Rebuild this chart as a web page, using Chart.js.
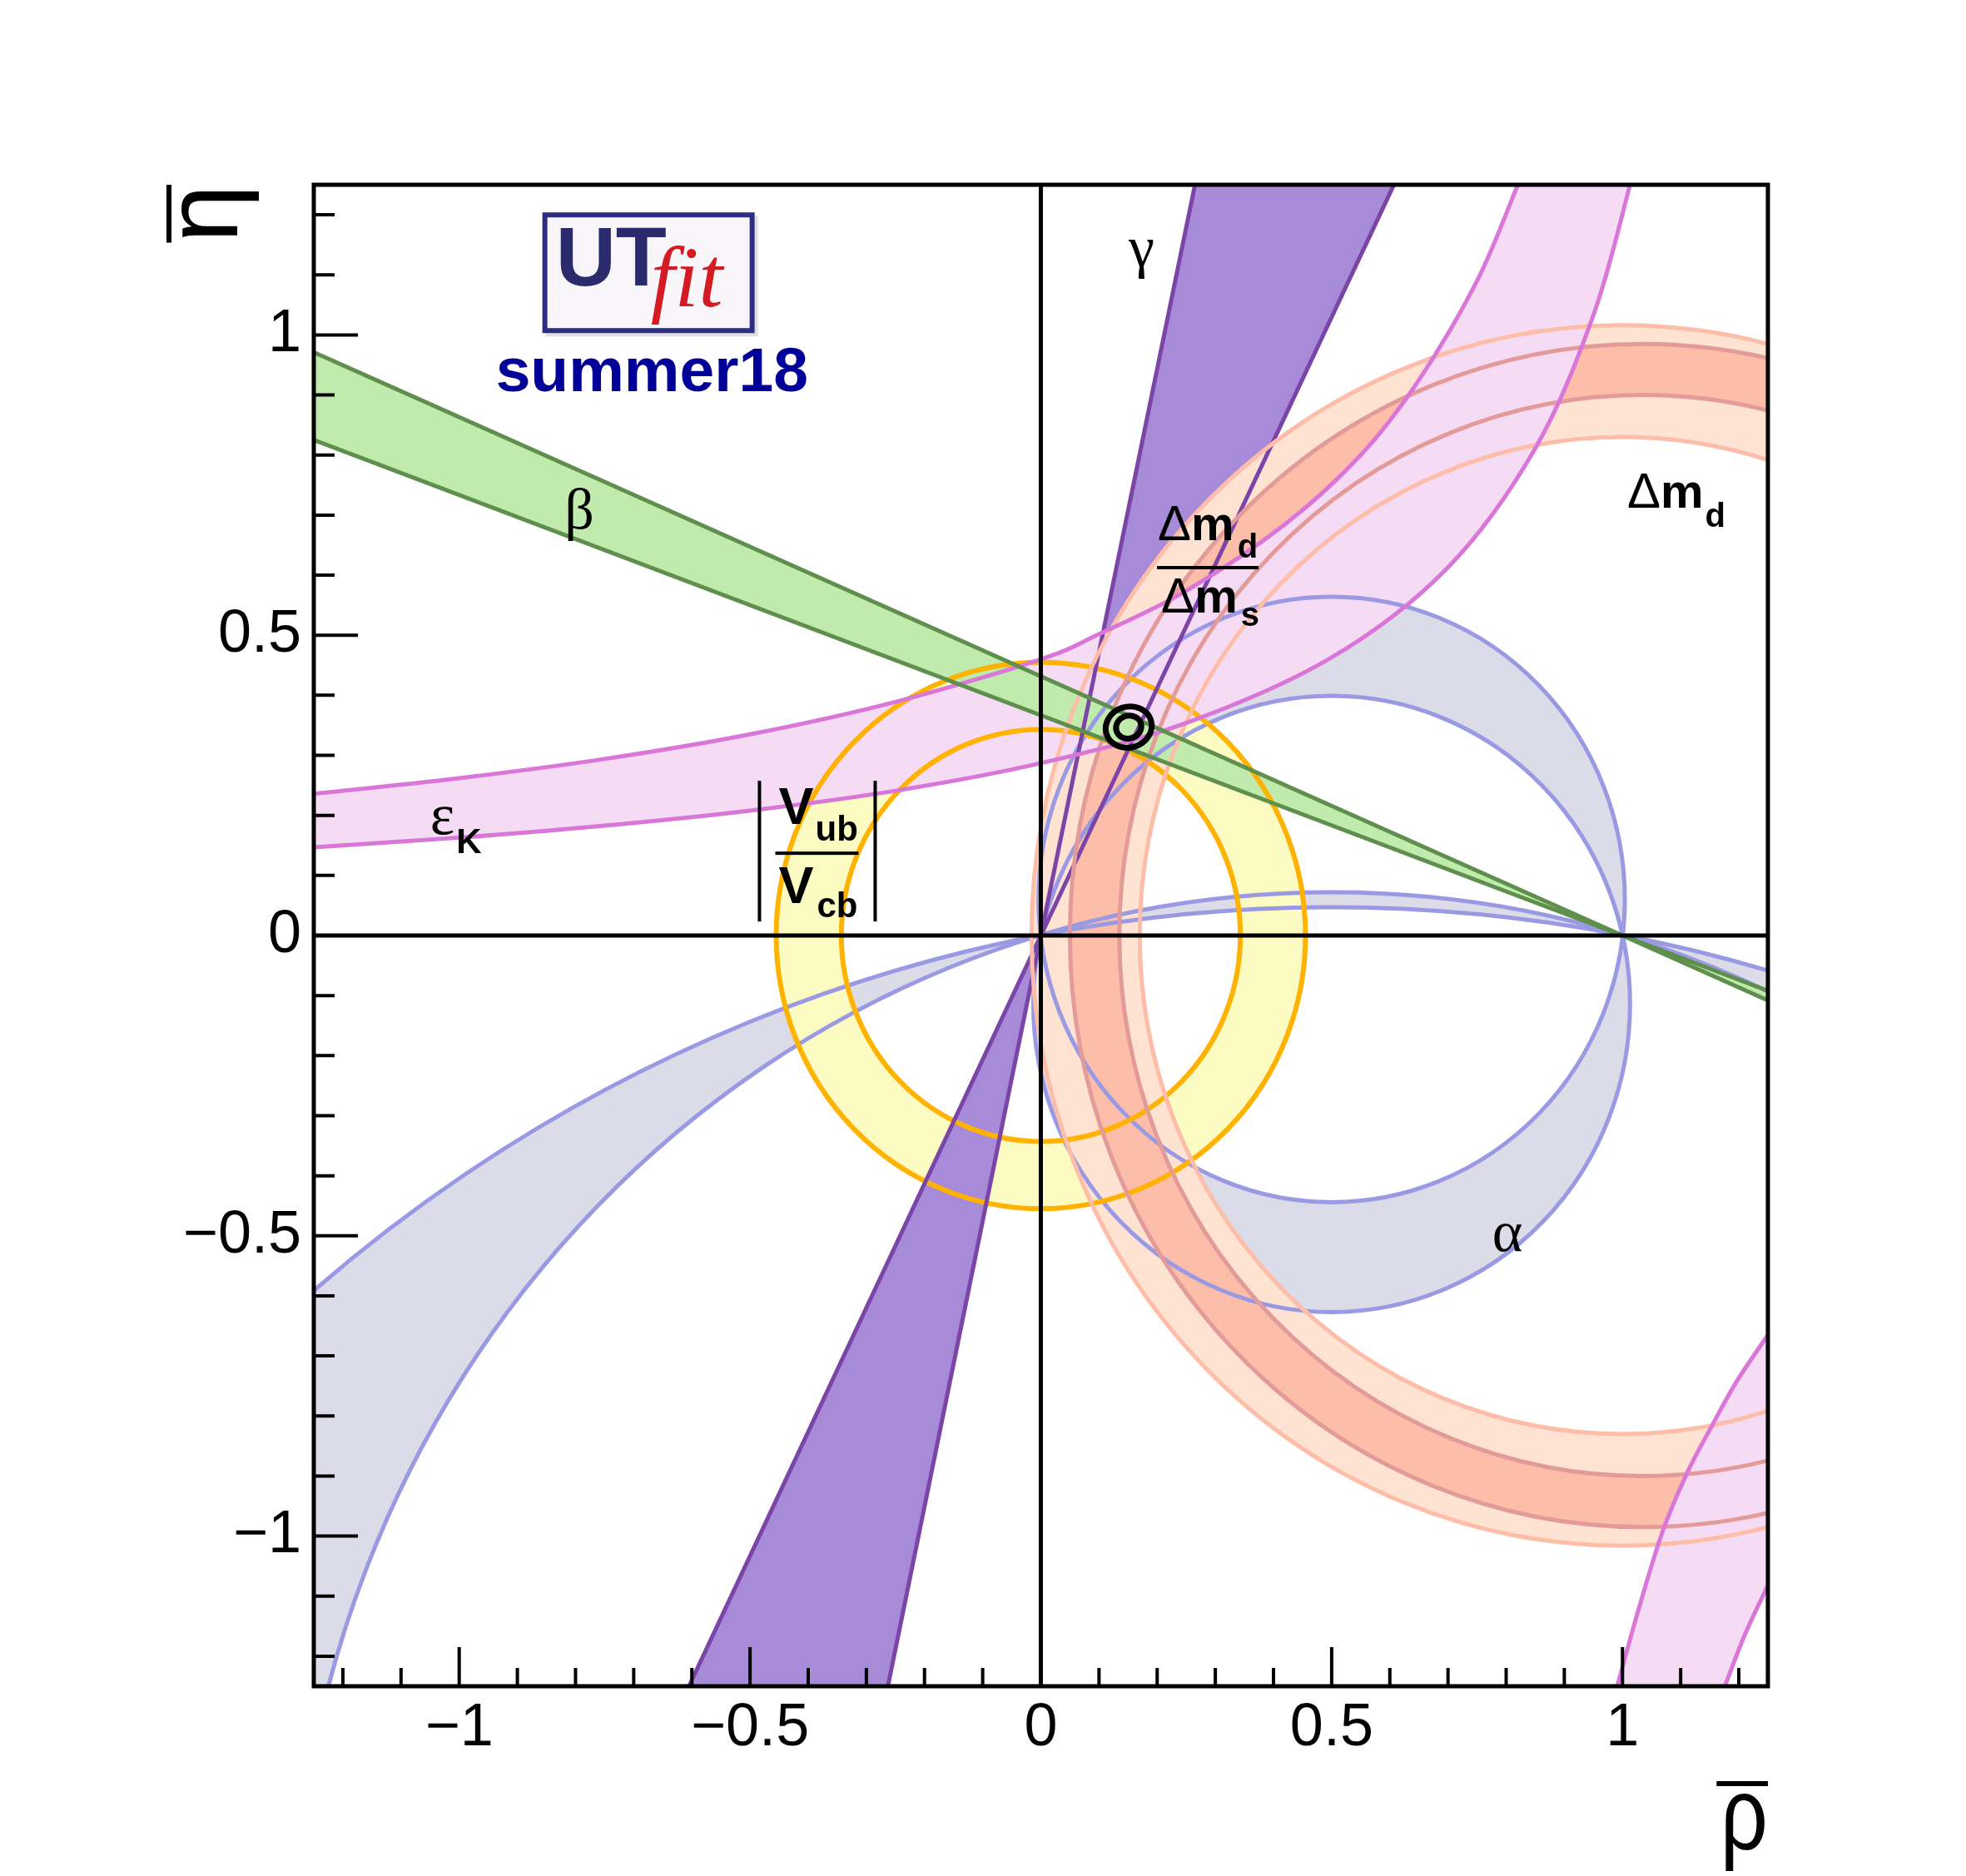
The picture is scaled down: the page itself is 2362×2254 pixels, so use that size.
<!DOCTYPE html>
<html>
<head>
<meta charset="utf-8">
<script src="https://cdn.jsdelivr.net/npm/chart.js@4.4.0/dist/chart.umd.min.js"></script>
<style>
  html, body { margin: 0; padding: 0; background: #fff; }
</style>
</head>
<body>
<canvas id="utChart" width="2362" height="2254"></canvas>
<script>
// axis ranges and ticks
const rhoRange = [-1.25, 1.25];
const etaRange = [-1.25, 1.25];
const rhoTickLabels = [-1, -0.5, 0, 0.5, 1];
const etaTickLabels = [-1, -0.5, 0, 0.5, 1];

// alpha: two pairs of circles through (0,0) and (1,0)  [rho, eta, radius]
const alphaSmall = [[0.5, 0.06, 0.504], [0.5, -0.114, 0.513]];
const alphaBig = [[0.5, -1.714, 1.786], [0.5, -2.671, 2.718]];

// |Vub/Vcb| ring around the origin
const vubCenter = [0, 0];
const vubRadii = [0.343, 0.455];

// Delta m_d (wide) and Delta m_d / Delta m_s (narrow) rings
const dmdCenter = [1, 0];
const dmdRadii = [0.83, 1.016];
const dmsCenter = [1.035, 0];
const dmsRadii = [0.90, 0.985];

// gamma wedge from the origin: rho where the edges leave the frame
const gammaTopRho = [0.265, 0.607];      // at eta = 1.25
const gammaBottomRho = [-0.605, -0.263]; // at eta = -1.25

// beta wedge from (1,0): eta where the edges leave the frame
const betaApex = [1, 0];
const betaLeftEta = [0.971, 0.825];   // at rho = -1.25
const betaRightEta = [-0.108, -0.092]; // at rho = 1.25

// epsilon_K band, upper branch
const epsUpRho = [-1.25, -1.0, -0.75, -0.5, -0.25, 0, 0.1, 0.25, 0.42, 0.55, 0.65, 0.75, 0.82];
const epsUpEta = [0.236, 0.262, 0.294, 0.335, 0.389, 0.46, 0.502, 0.574, 0.685, 0.80, 0.925, 1.09, 1.25];
const epsLoRho = [-1.25, -1.0, -0.75, -0.5, -0.25, 0, 0.25, 0.5, 0.7, 0.85, 0.95, 1.013];
const epsLoEta = [0.147, 0.163, 0.183, 0.208, 0.241, 0.287, 0.354, 0.463, 0.613, 0.811, 1.033, 1.25];
// epsilon_K band, lower branch
const epsB2InRho = [0.991, 1.025, 1.068, 1.111, 1.154, 1.196, 1.25];
const epsB2InEta = [-1.25, -1.131, -0.995, -0.895, -0.816, -0.743, -0.665];
const epsB2OutRho = [1.176, 1.21, 1.25];
const epsB2OutEta = [-1.25, -1.165, -1.082];

// fit result contours [rho, eta, half-width rho, half-width eta]
const fitContours = [[0.151, 0.347, 0.040, 0.034], [0.151, 0.347, 0.022, 0.019]];

const zip = (a, b) => a.map((v, i) => [v, b[i]]);
const fmt = v => (v < 0 ? '\u2212' : '') + Math.abs(v);

const colors = {
  alpha: ['#dcdce8', '#9a9ae4'],
  vub: ['#fbfbc2', '#ffb300'],
  gamma: ['#a78bd8', '#7b45a7'],
  dmd: ['#fee3d3', '#fdbda8'],
  dms: ['#fcbda9', '#e39b99'],
  eps: ['#f5dcf4', '#d976d8'],
  beta: ['#c1eaad', '#5e8f4c']
};

function spline(ctx, pts, move) {
  if (move) ctx.moveTo(pts[0][0], pts[0][1]);
  else ctx.lineTo(pts[0][0], pts[0][1]);
  for (let i = 0; i < pts.length - 1; i++) {
    const p0 = pts[i - 1] || pts[i], p1 = pts[i], p2 = pts[i + 1], p3 = pts[i + 2] || p2;
    ctx.bezierCurveTo(
      p1[0] + (p2[0] - p0[0]) / 6, p1[1] + (p2[1] - p0[1]) / 6,
      p2[0] - (p3[0] - p1[0]) / 6, p2[1] - (p3[1] - p1[1]) / 6,
      p2[0], p2[1]);
  }
}

const utPlugin = {
  id: 'utBands',
  beforeDraw(chart) {
    const ctx = chart.ctx;
    ctx.save();
    ctx.fillStyle = '#fff';
    ctx.fillRect(0, 0, chart.width, chart.height);
    ctx.restore();
  },
  afterDraw(chart) {
    const { ctx, chartArea: a } = chart;
    const sx = chart.scales.x, sy = chart.scales.y;
    const P = (r, e) => [sx.getPixelForValue(r), sy.getPixelForValue(e)];
    const pts = list => list.map(p => P(p[0], p[1]));

    function circle(c) {
      const [cx, cy] = P(c[0], c[1]);
      const rx = sx.getPixelForValue(c[0] + c[2]) - cx;
      const ry = cy - sy.getPixelForValue(c[1] + c[2]);
      ctx.moveTo(cx + rx, cy);
      ctx.ellipse(cx, cy, rx, ry, 0, 0, Math.PI * 2);
    }
    function ringFill(circles, col) {
      ctx.beginPath();
      circles.forEach(circle);
      ctx.fillStyle = col;
      ctx.fill('evenodd');
    }
    function ringLine(circles, col) {
      circles.forEach(c => { ctx.beginPath(); circle(c); ctx.strokeStyle = col; ctx.stroke(); });
    }
    const vubC = vubRadii.map(r => [vubCenter[0], vubCenter[1], r]);
    const dmdC = dmdRadii.map(r => [dmdCenter[0], dmdCenter[1], r]);
    const dmsC = dmsRadii.map(r => [dmsCenter[0], dmsCenter[1], r]);

    const gammaUp = [[0, 0], [gammaTopRho[0], rhoRange[1]], [gammaTopRho[1], rhoRange[1]]];
    const gammaDn = [[0, 0], [gammaBottomRho[0], etaRange[0]], [gammaBottomRho[1], etaRange[0]]];
    const betaL = [betaApex, [rhoRange[0], betaLeftEta[0]], [rhoRange[0], betaLeftEta[1]]];
    const betaR = [betaApex, [rhoRange[1], betaRightEta[0]], [rhoRange[1], betaRightEta[1]]];

    const epsUp = pts(zip(epsUpRho, epsUpEta));
    const epsLo = pts(zip(epsLoRho, epsLoEta));
    const epsIn = pts(zip(epsB2InRho, epsB2InEta));
    const epsOut = pts(zip(epsB2OutRho, epsB2OutEta));

    function wedgeFill(tri, col) {
      const q = pts(tri);
      ctx.beginPath();
      ctx.moveTo(q[0][0], q[0][1]);
      ctx.lineTo(q[1][0], q[1][1]);
      ctx.lineTo(q[2][0], q[2][1]);
      ctx.closePath();
      ctx.fillStyle = col;
      ctx.fill();
    }
    function wedgeLine(tri, col) {
      const q = pts(tri);
      ctx.strokeStyle = col;
      [1, 2].forEach(i => {
        ctx.beginPath();
        ctx.moveTo(q[0][0], q[0][1]);
        ctx.lineTo(q[i][0], q[i][1]);
        ctx.stroke();
      });
    }

    ctx.save();
    ctx.beginPath();
    ctx.rect(a.left, a.top, a.right - a.left, a.bottom - a.top);
    ctx.clip();
    ctx.lineJoin = 'round';

    // fills
    ringFill(alphaSmall, colors.alpha[0]);
    ringFill(alphaBig, colors.alpha[0]);
    ringFill(vubC, colors.vub[0]);
    wedgeFill(gammaUp, colors.gamma[0]);
    wedgeFill(gammaDn, colors.gamma[0]);
    ringFill(dmdC, colors.dmd[0]);
    ringFill(dmsC, colors.dms[0]);
    ctx.beginPath();
    spline(ctx, epsUp, true);
    spline(ctx, epsLo.slice().reverse(), false);
    ctx.closePath();
    ctx.fillStyle = colors.eps[0];
    ctx.fill();
    ctx.beginPath();
    spline(ctx, epsIn, true);
    spline(ctx, epsOut.slice().reverse(), false);
    ctx.closePath();
    ctx.fill();
    wedgeFill(betaL, colors.beta[0]);
    wedgeFill(betaR, colors.beta[0]);

    // edges
    ctx.lineWidth = 5;
    ringLine(alphaSmall, colors.alpha[1]);
    ringLine(alphaBig, colors.alpha[1]);
    ctx.lineWidth = 6;
    ringLine(vubC, colors.vub[1]);
    ctx.lineWidth = 5;
    wedgeLine(gammaUp, colors.gamma[1]);
    wedgeLine(gammaDn, colors.gamma[1]);
    ringLine(dmdC, colors.dmd[1]);
    ringLine(dmsC, colors.dms[1]);
    ctx.strokeStyle = colors.eps[1];
    [epsUp, epsLo, epsIn, epsOut].forEach(l => { ctx.beginPath(); spline(ctx, l, true); ctx.stroke(); });
    wedgeLine(betaL, colors.beta[1]);
    wedgeLine(betaR, colors.beta[1]);

    // axes through origin
    ctx.strokeStyle = '#000';
    ctx.lineWidth = 5;
    const o = P(0, 0);
    ctx.beginPath();
    ctx.moveTo(a.left, o[1]); ctx.lineTo(a.right, o[1]);
    ctx.moveTo(o[0], a.top); ctx.lineTo(o[0], a.bottom);
    ctx.stroke();

    // fit contours
    ctx.lineWidth = 7;
    fitContours.forEach(c => {
      const [cx, cy] = P(c[0], c[1]);
      const rx = sx.getPixelForValue(c[0] + c[2]) - cx;
      const ry = cy - sy.getPixelForValue(c[1] + c[3]);
      ctx.beginPath();
      ctx.ellipse(cx, cy, rx, ry, -0.3, 0, Math.PI * 2);
      ctx.stroke();
    });
    ctx.restore();

    // frame and ticks
    ctx.save();
    ctx.strokeStyle = '#000';
    ctx.lineWidth = 5;
    ctx.strokeRect(a.left, a.top, a.right - a.left, a.bottom - a.top);
    ctx.lineWidth = 4;
    ctx.beginPath();
    for (let k = -12; k <= 12; k++) {
      const v = k / 10;
      const major = k % 5 === 0;
      const xp = sx.getPixelForValue(v);
      ctx.moveTo(xp, a.bottom);
      ctx.lineTo(xp, a.bottom - (major ? 47 : 22));
      const yp = sy.getPixelForValue(v);
      ctx.moveTo(a.left, yp);
      ctx.lineTo(a.left + (major ? 53 : 25), yp);
    }
    ctx.stroke();

    // axis titles
    ctx.fillStyle = '#000';
    ctx.font = '125px "Liberation Sans"';
    ctx.textBaseline = 'alphabetic';
    ctx.save();
    ctx.translate(a.right, a.bottom + 196);
    ctx.scale(0.8, 1);
    ctx.textAlign = 'right';
    ctx.fillText('\u03c1', 0, 0);
    const wr = ctx.measureText('\u03c1').width;
    ctx.fillRect(-wr - 6, -82, wr + 6, 6);
    ctx.restore();
    ctx.save();
    ctx.translate(a.left - 92, a.top);
    ctx.rotate(-Math.PI / 2);
    ctx.textAlign = 'right';
    ctx.fillText('\u03b7', 0, 0);
    const we = ctx.measureText('\u03b7').width;
    ctx.fillRect(-we, -85, we, 6);
    ctx.restore();

    // helper for runs of text pieces [text, font, dy, gap]
    function run(pieces, x, y, measureOnly) {
      let cx = x;
      pieces.forEach(p => {
        ctx.font = p[1];
        if (!measureOnly) ctx.fillText(p[0], cx, y + (p[2] || 0));
        cx += ctx.measureText(p[0]).width + (p[3] || 0);
      });
      return cx - x;
    }
    ctx.textAlign = 'left';
    const greek = '70px "Liberation Serif"';
    const txt = (s, f, r, e) => { const q = P(r, e); ctx.font = f; ctx.fillText(s, q[0], q[1]); };
    txt('\u03b3', greek, 0.151, 1.114);
    txt('\u03b2', greek, -0.819, 0.678);
    txt('\u03b1', greek, 0.776, -0.525);
    const ek = P(-1.05, 0.169);
    run([['\u03b5', greek, 0, 2], ['K', 'bold 42px "Liberation Sans"', 23]], ek[0], ek[1]);

    const D = '60px "Liberation Sans"', M = 'bold 58px "Liberation Sans"', S = 'bold 40px "Liberation Sans"';
    const dm = P(1.008, 0.712);
    run([['\u0394', D], ['m', M, 0, 2], ['d', S, 23]], dm[0], dm[1]);

    // Delta m_d / Delta m_s fraction
    const fr = P(0.287, 0.6125);
    const num = [['\u0394', D], ['m', M, 0, 4], ['d', S, 21]];
    const den = [['\u0394', D], ['m', M, 0, 4], ['s', S, 16]];
    const wn = run(num, 0, 0, true), wd = run(den, 0, 0, true);
    run(num, fr[0] - wn / 2, fr[1] - 33);
    run(den, fr[0] - wd / 2 + 3, fr[1] + 54);
    ctx.fillRect(fr[0] - 61, fr[1] - 2, 122, 4);

    // |Vub/Vcb|
    const vb = P(-0.385, 0.137);
    const V = 'bold 63px "Liberation Sans"', sub = 'bold 42px "Liberation Sans"';
    run([['V', V, 0, 2], ['ub', sub, 20]], vb[0] - 46, vb[1] - 35);
    run([['V', V, 0, 4], ['cb', sub, 17]], vb[0] - 46, vb[1] + 60);
    ctx.fillRect(vb[0] - 50, vb[1] - 2, 100, 4);
    ctx.fillRect(vb[0] - 71, vb[1] - 87, 4, 169);
    ctx.fillRect(vb[0] + 68, vb[1] - 87, 4, 169);

    // UTfit logo and tag
    const lg = P(-0.857, 1.204);
    ctx.fillStyle = 'rgba(0,0,0,0.12)';
    ctx.fillRect(lg[0] + 4, lg[1] + 4, 255, 145);
    ctx.fillStyle = '#f8f5f8';
    ctx.fillRect(lg[0], lg[1], 255, 145);
    ctx.strokeStyle = '#2e2e80';
    ctx.lineWidth = 6;
    ctx.strokeRect(lg[0] + 3, lg[1] + 3, 249, 139);
    ctx.fillStyle = '#2a2a6c';
    ctx.font = 'bold 100px "Liberation Sans"';
    ctx.fillText('UT', lg[0] + 16, lg[1] + 88);
    ctx.fillStyle = '#d41a22';
    ctx.font = 'italic 104px "Liberation Serif"';
    ctx.fillText('fit', lg[0] + 130, lg[1] + 113);
    ctx.fillStyle = '#000099';
    ctx.font = 'bold 75px "Liberation Sans"';
    ctx.fillText('summer18', lg[0] - 56, lg[1] + 215);
    ctx.restore();
  }
};

const tickFont = { family: 'Liberation Sans', size: 72 };

new Chart(document.getElementById('utChart'), {
  type: 'scatter',
  data: { datasets: [{ data: [], pointRadius: 0 }] },
  options: {
    responsive: false,
    animation: false,
    layout: { padding: { top: 222, right: 238, left: 0, bottom: 0 } },
    plugins: { legend: { display: false }, tooltip: { enabled: false } },
    scales: {
      x: {
        type: 'linear', min: rhoRange[0], max: rhoRange[1],
        afterFit(s) { s.height = 228; },
        afterBuildTicks(s) { s.ticks = rhoTickLabels.map(v => ({ value: v })); },
        grid: { display: false, drawTicks: false },
        border: { display: false },
        ticks: { font: tickFont, color: '#000', padding: 8, maxRotation: 0, autoSkip: false, callback: fmt }
      },
      y: {
        type: 'linear', min: etaRange[0], max: etaRange[1],
        afterFit(s) { s.width = 377; },
        afterBuildTicks(s) { s.ticks = etaTickLabels.map(v => ({ value: v })); },
        grid: { display: false, drawTicks: false },
        border: { display: false },
        ticks: { font: tickFont, color: '#000', padding: 15, autoSkip: false, callback: fmt }
      }
    }
  },
  plugins: [utPlugin]
});
</script>
</body>
</html>
